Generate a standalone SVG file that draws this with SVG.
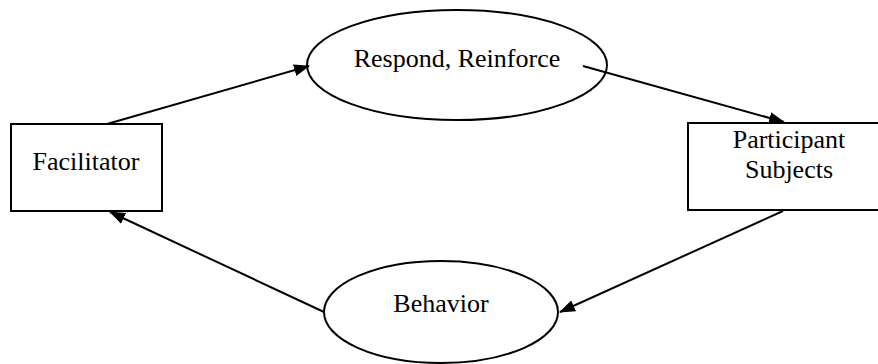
<svg xmlns="http://www.w3.org/2000/svg" width="878" height="364" viewBox="0 0 878 364">
<style>
.shape{fill:#fff;stroke:#000;stroke-width:2}
.lbl{font-family:'Liberation Serif','DejaVu Serif',serif;font-size:26px;fill:#000;text-anchor:middle}
.conn{stroke:#000;stroke-width:2;fill:none;marker-end:url(#ah)}
</style>
<defs>
<marker id="ah" markerUnits="userSpaceOnUse" markerWidth="16" markerHeight="12" refX="15" refY="6" orient="auto">
<path d="M0,0 L16,6 L0,12 z" fill="#000"/>
</marker>
</defs>
<rect width="878" height="364" fill="#fff"/>
<g id="facilitator">
<rect class="shape" x="11" y="124" width="151" height="87"/>
<text class="lbl" x="86" y="170">Facilitator</text>
</g>
<g id="respond">
<ellipse class="shape" cx="457" cy="65" rx="150" ry="55"/>
<text class="lbl" x="457" y="67">Respond, Reinforce</text>
</g>
<g id="participant">
<rect class="shape" x="688" y="123" width="204" height="87"/>
<text class="lbl" x="789" y="148">Participant</text>
<text class="lbl" x="789" y="178">Subjects</text>
</g>
<g id="behavior">
<ellipse class="shape" cx="441" cy="312" rx="117" ry="51"/>
<text class="lbl" x="441" y="312">Behavior</text>
</g>
<g id="connectors">
<line class="conn" x1="107" y1="124" x2="309" y2="66"/>
<line class="conn" x1="583" y1="66" x2="784" y2="122"/>
<line class="conn" x1="783" y1="211" x2="560" y2="312"/>
<line class="conn" x1="324" y1="312" x2="110" y2="212"/>
</g>
</svg>
